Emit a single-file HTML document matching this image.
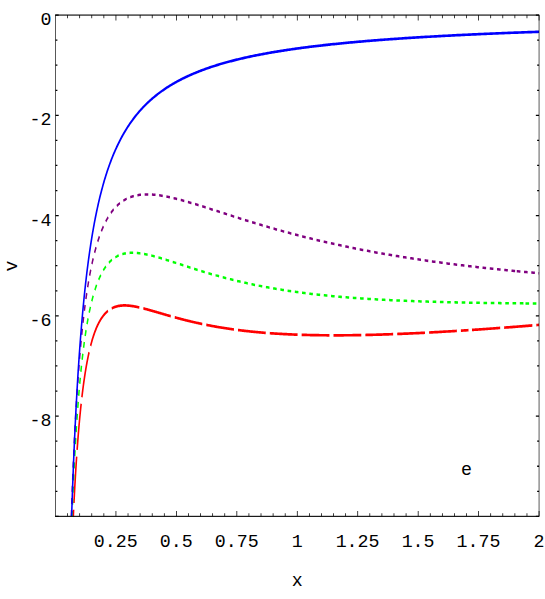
<!DOCTYPE html><html><head><meta charset="utf-8"><title>plot</title><style>html,body{margin:0;padding:0;background:#fff;overflow:hidden}svg{display:block}</style></head><body>
<svg width="545" height="599" viewBox="0 0 545 599">
<rect x="0" y="0" width="545" height="599" fill="#fff"/>
<g transform="scale(1,1.675)">
<g fill="none" stroke-width="1.5" stroke-linejoin="round">
<path d="M73.31,308.27 L73.32,308.26 L73.32,308.22 L73.32,308.15 L73.33,308.05 L73.34,307.92 L73.35,307.76 L73.37,307.58 L73.38,307.36 L73.40,307.12 L73.42,306.86 L73.45,306.56 L73.47,306.24 L73.50,305.89 L73.53,305.51 L73.56,305.11 L73.60,304.68 L73.63,304.23 L73.67,303.75 L73.71,303.24 L73.75,302.71 L73.80,302.16 L73.85,301.58 L73.90,300.98 L73.95,300.36 L74.00,299.72 L74.06,299.05 L74.12,298.36 L74.18,297.65 L74.24,296.92 L74.31,296.17 L74.37,295.40 L74.44,294.62 L74.51,293.81 L74.59,292.99 L74.66,292.14 L74.74,291.29 L74.82,290.41 L74.90,289.53 L74.99,288.62 L75.08,287.70 L75.17,286.77 L75.26,285.83 L75.35,284.87 L75.45,283.90 L75.54,282.92 L75.64,281.93 L75.75,280.93 L75.85,279.92 L75.96,278.90 L76.07,277.87 L76.18,276.84 L76.29,275.79 L76.41,274.74 L76.53,273.69 L76.65,272.63 L76.77,271.56 L76.89,270.49 L77.02,269.41 L77.15,268.33 L77.28,267.25 L77.41,266.16 L77.55,265.08 L77.69,263.99 L77.83,262.90 L77.97,261.81 L78.11,260.72 L78.26,259.62 L78.41,258.53 L78.56,257.44 L78.71,256.36 L78.87,255.27 L79.02,254.19 L79.18,253.11 L79.35,252.03 L79.51,250.95 L79.68,249.88 L79.84,248.82 L80.02,247.75 L80.19,246.69 L80.36,245.64 L80.54,244.59 L80.72,243.55 L80.90,242.52 L81.09,241.49 L81.27,240.46 L81.46,239.44 L81.65,238.43 L81.84,237.43 L82.04,236.43 L82.24,235.45 L82.43,234.47 L82.64,233.49 L82.84,232.53 L83.05,231.57 L83.25,230.62 L83.46,229.69 L83.68,228.76 L83.89,227.83 L84.11,226.92 L84.33,226.02 L84.55,225.12 L84.77,224.24 L85.00,223.36 L85.23,222.50 L85.46,221.64 L85.69,220.80 L85.92,219.96 L86.16,219.14 L86.40,218.32 L86.64,217.51 L86.88,216.72 L87.13,215.93 L87.38,215.16 L87.63,214.39 L87.88,213.64 L88.13,212.89 L88.39,212.16 L88.65,211.43 L88.91,210.72 L89.17,210.01 L89.44,209.32 L89.71,208.64 L89.98,207.97 L90.25,207.30 L90.52,206.65 L90.80,206.01 L91.08,205.38 L91.36,204.76 L91.64,204.15 L91.93,203.55 L92.22,202.95 L92.51,202.37 L92.80,201.80 L93.09,201.24 L93.39,200.69 L93.69,200.15 L93.99,199.62 L94.29,199.10 L94.59,198.59 L94.90,198.09 L95.21,197.60 L95.52,197.11 L95.84,196.64 L96.15,196.18 L96.47,195.73 L96.79,195.28 L97.11,194.85 L97.44,194.42 L97.77,194.00 L98.10,193.59 L98.43,193.20 L98.76,192.81 L99.10,192.42 L99.44,192.05 L99.78,191.69 L100.12,191.33 L100.46,190.98 L100.81,190.65 L101.16,190.32 L101.51,189.99 L101.86,189.68 L102.22,189.37 L102.58,189.08 L102.94,188.78 L103.30,188.50 L103.66,188.23 L104.03,187.96 L104.40,187.70 L104.77,187.45 L105.14,187.20 L105.52,186.97 L105.90,186.74 L106.28,186.51 L106.66,186.30 L107.04,186.09 L107.43,185.88 L107.82,185.69 L108.21,185.50 L108.60,185.32 L109.00,185.14 L109.40,184.97 L109.80,184.80 L110.20,184.65 L110.60,184.50 L111.01,184.35 L111.42,184.21 L111.83,184.08 L112.24,183.95 L112.66,183.83 L113.07,183.71 L113.49,183.60 L113.92,183.49 L114.34,183.39 L114.77,183.30 L115.20,183.21 L115.63,183.12 L116.06,183.04 L116.49,182.96 L116.93,182.89 L117.37,182.83 L117.81,182.77 L118.26,182.71 L118.70,182.66 L119.15,182.61 L119.60,182.57 L120.05,182.53 L120.51,182.49 L120.97,182.46 L121.42,182.43 L121.89,182.41 L122.35,182.39 L122.82,182.38 L123.28,182.36 L123.75,182.36 L124.23,182.35 L124.70,182.35 L125.18,182.35 L125.66,182.36 L126.14,182.37 L126.62,182.38 L127.11,182.40 L127.60,182.42 L128.09,182.44 L128.58,182.46 L129.07,182.49 L129.57,182.52 L130.07,182.55 L130.57,182.59 L131.07,182.63 L131.58,182.67 L132.09,182.71 L132.60,182.76 L133.11,182.81 L133.62,182.86 L134.14,182.91 L134.66,182.97 L135.18,183.02 L135.70,183.08 L136.23,183.14 L136.76,183.21 L137.29,183.27 L137.82,183.34 L138.35,183.41 L138.89,183.48 L139.43,183.55 L139.97,183.63 L140.51,183.71 L141.06,183.78 L141.60,183.86 L142.15,183.94 L142.70,184.03 L143.26,184.11 L143.81,184.19 L144.37,184.28 L144.93,184.37 L145.50,184.46 L146.06,184.55 L146.63,184.64 L147.20,184.73 L147.77,184.83 L148.34,184.92 L148.92,185.02 L149.50,185.11 L150.08,185.21 L150.66,185.31 L151.25,185.41 L151.83,185.51 L152.42,185.61 L153.01,185.71 L153.61,185.81 L154.20,185.91 L154.80,186.02 L155.40,186.12 L156.00,186.23 L156.61,186.33 L157.21,186.44 L157.82,186.54 L158.44,186.65 L159.05,186.76 L159.66,186.87 L160.28,186.97 L160.90,187.08 L161.52,187.19 L162.15,187.30 L162.78,187.41 L163.40,187.52 L164.04,187.63 L164.67,187.74 L165.30,187.85 L165.94,187.96 L166.58,188.07 L167.22,188.18 L167.87,188.29 L168.52,188.40 L169.16,188.51 L169.82,188.62 L170.47,188.73 L171.12,188.84 L171.78,188.95 L172.44,189.06 L173.10,189.17 L173.77,189.28 L174.43,189.39 L175.10,189.50 L175.77,189.61 L176.45,189.72 L177.12,189.83 L177.80,189.94 L178.48,190.05 L179.16,190.16 L179.84,190.26 L180.53,190.37 L181.22,190.48 L181.91,190.59 L182.60,190.70 L183.30,190.80 L183.99,190.91 L184.69,191.02 L185.39,191.12 L186.10,191.23 L186.80,191.33 L187.51,191.44 L188.22,191.54 L188.94,191.65 L189.65,191.75 L190.37,191.85 L191.09,191.95 L191.81,192.06 L192.53,192.16 L193.26,192.26 L193.99,192.36 L194.72,192.46 L195.45,192.56 L196.18,192.66 L196.92,192.76 L197.66,192.86 L198.40,192.95 L199.14,193.05 L199.89,193.15 L200.64,193.24 L201.39,193.34 L202.14,193.43 L202.89,193.53 L203.65,193.62 L204.41,193.72 L205.17,193.81 L205.93,193.90 L206.70,193.99 L207.47,194.08 L208.24,194.17 L209.01,194.26 L209.78,194.35 L210.56,194.44 L211.34,194.53 L212.12,194.61 L212.90,194.70 L213.69,194.79 L214.47,194.87 L215.26,194.96 L216.06,195.04 L216.85,195.12 L217.65,195.21 L218.45,195.29 L219.25,195.37 L220.05,195.45 L220.85,195.53 L221.66,195.61 L222.47,195.69 L223.28,195.76 L224.10,195.84 L224.91,195.92 L225.73,195.99 L226.55,196.07 L227.37,196.14 L228.20,196.22 L229.03,196.29 L229.86,196.36 L230.69,196.43 L231.52,196.51 L232.36,196.58 L233.20,196.65 L234.04,196.71 L234.88,196.78 L235.72,196.85 L236.57,196.92 L237.42,196.98 L238.27,197.05 L239.12,197.11 L239.98,197.18 L240.84,197.24 L241.70,197.30 L242.56,197.37 L243.43,197.43 L244.29,197.49 L245.16,197.55 L246.03,197.61 L246.91,197.66 L247.78,197.72 L248.66,197.78 L249.54,197.84 L250.42,197.89 L251.31,197.95 L252.19,198.00 L253.08,198.05 L253.97,198.11 L254.87,198.16 L255.76,198.21 L256.66,198.26 L257.56,198.31 L258.46,198.36 L259.36,198.41 L260.27,198.46 L261.18,198.50 L262.09,198.55 L263.00,198.60 L263.92,198.64 L264.84,198.69 L265.76,198.73 L266.68,198.77 L267.60,198.82 L268.53,198.86 L269.46,198.90 L270.39,198.94 L271.32,198.98 L272.26,199.02 L273.19,199.06 L274.13,199.09 L275.07,199.13 L276.02,199.17 L276.96,199.20 L277.91,199.24 L278.86,199.27 L279.82,199.31 L280.77,199.34 L281.73,199.37 L282.69,199.40 L283.65,199.44 L284.61,199.47 L285.58,199.50 L286.55,199.52 L287.52,199.55 L288.49,199.58 L289.46,199.61 L290.44,199.64 L291.42,199.66 L292.40,199.69 L293.39,199.71 L294.37,199.73 L295.36,199.76 L296.35,199.78 L297.34,199.80 L298.34,199.82 L299.33,199.85 L300.33,199.87 L301.33,199.89 L302.34,199.90 L303.34,199.92 L304.35,199.94 L305.36,199.96 L306.37,199.97 L307.39,199.99 L308.40,200.00 L309.42,200.02 L310.44,200.03 L311.47,200.05 L312.49,200.06 L313.52,200.07 L314.55,200.08 L315.58,200.09 L316.61,200.10 L317.65,200.11 L318.69,200.12 L319.73,200.13 L320.77,200.14 L321.82,200.15 L322.87,200.15 L323.92,200.16 L324.97,200.17 L326.02,200.17 L327.08,200.18 L328.14,200.18 L329.20,200.18 L330.26,200.19 L331.33,200.19 L332.39,200.19 L333.46,200.19 L334.53,200.19 L335.61,200.19 L336.68,200.19 L337.76,200.19 L338.84,200.19 L339.93,200.19 L341.01,200.18 L342.10,200.18 L343.19,200.18 L344.28,200.17 L345.37,200.17 L346.47,200.16 L347.57,200.15 L348.67,200.15 L349.77,200.14 L350.87,200.13 L351.98,200.13 L353.09,200.12 L354.20,200.11 L355.31,200.10 L356.43,200.09 L357.55,200.08 L358.67,200.06 L359.79,200.05 L360.91,200.04 L362.04,200.03 L363.17,200.01 L364.30,200.00 L365.43,199.99 L366.57,199.97 L367.71,199.95 L368.85,199.94 L369.99,199.92 L371.13,199.90 L372.28,199.89 L373.43,199.87 L374.58,199.85 L375.73,199.83 L376.89,199.81 L378.05,199.79 L379.21,199.77 L380.37,199.75 L381.53,199.73 L382.70,199.71 L383.87,199.68 L385.04,199.66 L386.21,199.64 L387.39,199.61 L388.56,199.59 L389.74,199.56 L390.93,199.54 L392.11,199.51 L393.30,199.49 L394.48,199.46 L395.67,199.43 L396.87,199.41 L398.06,199.38 L399.26,199.35 L400.46,199.32 L401.66,199.29 L402.86,199.26 L404.07,199.23 L405.28,199.20 L406.49,199.17 L407.70,199.14 L408.92,199.10 L410.13,199.07 L411.35,199.04 L412.57,199.00 L413.80,198.97 L415.02,198.94 L416.25,198.90 L417.48,198.87 L418.72,198.83 L419.95,198.79 L421.19,198.76 L422.43,198.72 L423.67,198.68 L424.91,198.64 L426.16,198.61 L427.40,198.57 L428.65,198.53 L429.91,198.49 L431.16,198.45 L432.42,198.41 L433.68,198.37 L434.94,198.32 L436.20,198.28 L437.47,198.24 L438.73,198.20 L440.00,198.16 L441.28,198.11 L442.55,198.07 L443.83,198.02 L445.11,197.98 L446.39,197.93 L447.67,197.89 L448.96,197.84 L450.24,197.80 L451.53,197.75 L452.82,197.70 L454.12,197.66 L455.42,197.61 L456.71,197.56 L458.01,197.51 L459.32,197.46 L460.62,197.41 L461.93,197.36 L463.24,197.31 L464.55,197.26 L465.87,197.21 L467.18,197.16 L468.50,197.11" stroke="#f00" stroke-width="1.6" stroke-dasharray="27.8 4.06" stroke-dashoffset="23.85"/>
<path d="M472.00,196.97 L472.01,196.97 L472.04,196.97 L472.10,196.96 L472.17,196.96 L472.27,196.96 L472.39,196.95 L472.53,196.95 L472.69,196.94 L472.87,196.93 L473.07,196.93 L473.30,196.92 L473.55,196.91 L473.82,196.90 L474.11,196.88 L474.42,196.87 L474.75,196.86 L475.10,196.84 L475.48,196.83 L475.88,196.81 L476.30,196.80 L476.74,196.78 L477.20,196.76 L477.68,196.74 L478.19,196.72 L478.71,196.70 L479.26,196.67 L479.83,196.65 L480.42,196.63 L481.04,196.60 L481.67,196.58 L482.32,196.55 L483.00,196.52 L483.70,196.49 L484.42,196.46 L485.16,196.43 L485.92,196.40 L486.71,196.36 L487.51,196.33 L488.34,196.29 L489.19,196.26 L490.06,196.22 L490.95,196.18 L491.86,196.14 L492.80,196.10 L493.76,196.06 L494.73,196.02 L495.73,195.98 L496.75,195.93 L497.80,195.89 L498.86,195.84 L499.94,195.79 L501.05,195.74 L502.18,195.69 L503.33,195.64 L504.50,195.59 L505.69,195.54 L506.91,195.48 L508.14,195.43 L509.40,195.37 L510.68,195.31 L511.98,195.25 L513.30,195.19 L514.64,195.13 L516.01,195.07 L517.39,195.00 L518.80,194.94 L520.23,194.87 L521.68,194.80 L523.15,194.73 L524.64,194.66 L526.16,194.59 L527.69,194.52 L529.25,194.44 L530.83,194.37 L532.43,194.29 L534.05,194.21 L535.70,194.13 L537.36,194.05 L539.05,193.97" stroke="#f00" stroke-width="1.6" stroke-dasharray="28.2 4.0"/>
<path d="M72.02,308.27 L72.02,308.26 L72.03,308.20 L72.03,308.10 L72.04,307.96 L72.05,307.79 L72.07,307.57 L72.08,307.32 L72.10,307.03 L72.13,306.70 L72.15,306.33 L72.18,305.92 L72.20,305.48 L72.24,305.00 L72.27,304.49 L72.31,303.94 L72.35,303.35 L72.39,302.73 L72.43,302.08 L72.48,301.39 L72.53,300.67 L72.58,299.92 L72.63,299.14 L72.69,298.32 L72.75,297.48 L72.81,296.61 L72.87,295.71 L72.94,294.78 L73.01,293.82 L73.08,292.84 L73.16,291.83 L73.23,290.79 L73.31,289.74 L73.39,288.66 L73.48,287.56 L73.57,286.43 L73.66,285.29 L73.75,284.13 L73.84,282.94 L73.94,281.74 L74.04,280.53 L74.14,279.30 L74.25,278.05 L74.35,276.79 L74.46,275.51 L74.57,274.22 L74.69,272.92 L74.81,271.61 L74.93,270.29 L75.05,268.96 L75.17,267.62 L75.30,266.27 L75.43,264.92 L75.56,263.56 L75.70,262.19 L75.83,260.82 L75.97,259.44 L76.12,258.06 L76.26,256.68 L76.41,255.30 L76.56,253.91 L76.71,252.52 L76.87,251.14 L77.02,249.75 L77.18,248.37 L77.35,246.98 L77.51,245.60 L77.68,244.23 L77.85,242.85 L78.02,241.48 L78.20,240.11 L78.37,238.75 L78.55,237.39 L78.74,236.04 L78.92,234.70 L79.11,233.36 L79.30,232.03 L79.49,230.70 L79.69,229.39 L79.88,228.08 L80.09,226.78 L80.29,225.49 L80.49,224.20 L80.70,222.93 L80.91,221.67 L81.12,220.41 L81.34,219.17 L81.56,217.94 L81.78,216.71 L82.00,215.50 L82.23,214.30 L82.45,213.11 L82.69,211.93 L82.92,210.76 L83.15,209.61 L83.39,208.47 L83.63,207.33 L83.88,206.21 L84.12,205.11 L84.37,204.01 L84.62,202.93 L84.87,201.86 L85.13,200.80 L85.39,199.76 L85.65,198.72 L85.91,197.70 L86.18,196.70 L86.45,195.70 L86.72,194.72 L86.99,193.75 L87.27,192.80 L87.54,191.86 L87.82,190.93 L88.11,190.01 L88.39,189.11 L88.68,188.21 L88.97,187.34 L89.27,186.47 L89.56,185.62 L89.86,184.78 L90.16,183.95 L90.47,183.14 L90.77,182.34 L91.08,181.55 L91.39,180.77 L91.71,180.00 L92.02,179.25 L92.34,178.51 L92.66,177.79 L92.99,177.07 L93.31,176.37 L93.64,175.68 L93.97,175.00 L94.31,174.33 L94.64,173.68 L94.98,173.03 L95.32,172.40 L95.67,171.78 L96.01,171.17 L96.36,170.58 L96.71,169.99 L97.07,169.41 L97.42,168.85 L97.78,168.30 L98.14,167.76 L98.51,167.23 L98.87,166.70 L99.24,166.20 L99.62,165.70 L99.99,165.21 L100.37,164.73 L100.75,164.26 L101.13,163.80 L101.51,163.35 L101.90,162.92 L102.29,162.49 L102.68,162.07 L103.07,161.66 L103.47,161.26 L103.87,160.87 L104.27,160.49 L104.68,160.12 L105.08,159.76 L105.49,159.40 L105.90,159.06 L106.32,158.72 L106.74,158.39 L107.15,158.08 L107.58,157.77 L108.00,157.46 L108.43,157.17 L108.86,156.88 L109.29,156.61 L109.72,156.34 L110.16,156.08 L110.60,155.82 L111.04,155.58 L111.49,155.34 L111.93,155.11 L112.38,154.88 L112.84,154.67 L113.29,154.46 L113.75,154.25 L114.21,154.06 L114.67,153.87 L115.14,153.69 L115.60,153.51 L116.07,153.34 L116.55,153.18 L117.02,153.03 L117.50,152.88 L117.98,152.73 L118.46,152.60 L118.95,152.47 L119.43,152.34 L119.92,152.22 L120.42,152.11 L120.91,152.00 L121.41,151.90 L121.91,151.80 L122.41,151.71 L122.92,151.63 L123.42,151.55 L123.93,151.47 L124.45,151.40 L124.96,151.34 L125.48,151.28 L126.00,151.22 L126.52,151.17 L127.05,151.13 L127.58,151.09 L128.11,151.05 L128.64,151.02 L129.17,150.99 L129.71,150.97 L130.25,150.95 L130.80,150.94 L131.34,150.93 L131.89,150.92 L132.44,150.92 L132.99,150.92 L133.55,150.92 L134.11,150.93 L134.67,150.95 L135.23,150.96 L135.79,150.98 L136.36,151.01 L136.93,151.03 L137.51,151.06 L138.08,151.10 L138.66,151.14 L139.24,151.18 L139.82,151.22 L140.41,151.27 L141.00,151.32 L141.59,151.37 L142.18,151.42 L142.78,151.48 L143.38,151.54 L143.98,151.61 L144.58,151.68 L145.19,151.74 L145.80,151.82 L146.41,151.89 L147.02,151.97 L147.64,152.05 L148.25,152.13 L148.88,152.21 L149.50,152.30 L150.12,152.39 L150.75,152.48 L151.38,152.57 L152.02,152.66 L152.65,152.76 L153.29,152.86 L153.93,152.96 L154.58,153.06 L155.22,153.17 L155.87,153.27 L156.52,153.38 L157.18,153.49 L157.83,153.60 L158.49,153.71 L159.15,153.83 L159.82,153.94 L160.48,154.06 L161.15,154.18 L161.82,154.30 L162.50,154.42 L163.18,154.54 L163.85,154.67 L164.54,154.79 L165.22,154.92 L165.91,155.05 L166.60,155.18 L167.29,155.31 L167.98,155.44 L168.68,155.57 L169.38,155.70 L170.08,155.84 L170.78,155.97 L171.49,156.11 L172.20,156.24 L172.91,156.38 L173.62,156.52 L174.34,156.66 L175.06,156.80 L175.78,156.94 L176.51,157.08 L177.23,157.22 L177.96,157.36 L178.69,157.50 L179.43,157.65 L180.17,157.79 L180.91,157.93 L181.65,158.08 L182.39,158.22 L183.14,158.37 L183.89,158.51 L184.64,158.66 L185.39,158.81 L186.15,158.95 L186.91,159.10 L187.67,159.25 L188.44,159.40 L189.21,159.54 L189.98,159.69 L190.75,159.84 L191.52,159.99 L192.30,160.14 L193.08,160.29 L193.86,160.43 L194.65,160.58 L195.43,160.73 L196.22,160.88 L197.02,161.03 L197.81,161.18 L198.61,161.33 L199.41,161.47 L200.21,161.62 L201.02,161.77 L201.82,161.92 L202.63,162.07 L203.44,162.22 L204.26,162.36 L205.08,162.51 L205.90,162.66 L206.72,162.81 L207.55,162.95 L208.37,163.10 L209.20,163.25 L210.04,163.39 L210.87,163.54 L211.71,163.68 L212.55,163.83 L213.39,163.97 L214.24,164.12 L215.08,164.26 L215.93,164.40 L216.79,164.55 L217.64,164.69 L218.50,164.83 L219.36,164.98 L220.22,165.12 L221.09,165.26 L221.96,165.40 L222.83,165.54 L223.70,165.68 L224.58,165.82 L225.45,165.96 L226.33,166.10 L227.22,166.23 L228.10,166.37 L228.99,166.51 L229.88,166.64 L230.78,166.78 L231.67,166.91 L232.57,167.05 L233.47,167.18 L234.37,167.32 L235.28,167.45 L236.19,167.58 L237.10,167.71 L238.01,167.84 L238.93,167.97 L239.84,168.10 L240.77,168.23 L241.69,168.36 L242.61,168.49 L243.54,168.61 L244.47,168.74 L245.41,168.87 L246.34,168.99 L247.28,169.11 L248.22,169.24 L249.17,169.36 L250.11,169.48 L251.06,169.60 L252.01,169.73 L252.97,169.85 L253.92,169.97 L254.88,170.08 L255.84,170.20 L256.81,170.32 L257.77,170.44 L258.74,170.55 L259.71,170.67 L260.69,170.78 L261.66,170.89 L262.64,171.01 L263.62,171.12 L264.61,171.23 L265.59,171.34 L266.58,171.45 L267.57,171.56 L268.57,171.67 L269.56,171.78 L270.56,171.88 L271.56,171.99 L272.57,172.09 L273.57,172.20 L274.58,172.30 L275.59,172.41 L276.61,172.51 L277.62,172.61 L278.64,172.71 L279.66,172.81 L280.69,172.91 L281.72,173.01 L282.74,173.11 L283.78,173.20 L284.81,173.30 L285.85,173.40 L286.89,173.49 L287.93,173.59 L288.97,173.68 L290.02,173.77 L291.07,173.86 L292.12,173.95 L293.17,174.04 L294.23,174.13 L295.29,174.22 L296.35,174.31 L297.42,174.40 L298.48,174.48 L299.55,174.57 L300.63,174.66 L301.70,174.74 L302.78,174.82 L303.86,174.91 L304.94,174.99 L306.02,175.07 L307.11,175.15 L308.20,175.23 L309.29,175.31 L310.39,175.39 L311.48,175.47 L312.58,175.54 L313.69,175.62 L314.79,175.69 L315.90,175.77 L317.01,175.84 L318.12,175.92 L319.24,175.99 L320.35,176.06 L321.47,176.13 L322.59,176.20 L323.72,176.27 L324.85,176.34 L325.98,176.41 L327.11,176.48 L328.24,176.55 L329.38,176.61 L330.52,176.68 L331.66,176.74 L332.81,176.81 L333.96,176.87 L335.11,176.94 L336.26,177.00 L337.42,177.06 L338.57,177.12 L339.73,177.18 L340.90,177.24 L342.06,177.30 L343.23,177.36 L344.40,177.42 L345.57,177.48 L346.75,177.53 L347.92,177.59 L349.11,177.65 L350.29,177.70 L351.47,177.76 L352.66,177.81 L353.85,177.86 L355.04,177.92 L356.24,177.97 L357.44,178.02 L358.64,178.07 L359.84,178.12 L361.05,178.17 L362.25,178.22 L363.47,178.27 L364.68,178.32 L365.89,178.36 L367.11,178.41 L368.33,178.46 L369.56,178.50 L370.78,178.55 L372.01,178.59 L373.24,178.64 L374.47,178.68 L375.71,178.72 L376.95,178.76 L378.19,178.81 L379.43,178.85 L380.68,178.89 L381.93,178.93 L383.18,178.97 L384.43,179.01 L385.69,179.05 L386.94,179.09 L388.21,179.13 L389.47,179.16 L390.74,179.20 L392.00,179.24 L393.27,179.27 L394.55,179.31 L395.82,179.34 L397.10,179.38 L398.38,179.41 L399.67,179.45 L400.95,179.48 L402.24,179.51 L403.53,179.55 L404.83,179.58 L406.12,179.61 L407.42,179.64 L408.72,179.67 L410.03,179.70 L411.33,179.73 L412.64,179.76 L413.95,179.79 L415.27,179.82 L416.58,179.85 L417.90,179.88 L419.22,179.90 L420.55,179.93 L421.87,179.96 L423.20,179.98 L424.54,180.01 L425.87,180.04 L427.21,180.06 L428.54,180.09 L429.89,180.11 L431.23,180.13 L432.58,180.16 L433.93,180.18 L435.28,180.21 L436.63,180.23 L437.99,180.25 L439.35,180.27 L440.71,180.29 L442.07,180.32 L443.44,180.34 L444.81,180.36 L446.18,180.38 L447.56,180.40 L448.93,180.42 L450.31,180.44 L451.69,180.46 L453.08,180.48 L454.47,180.50 L455.85,180.52 L457.25,180.53 L458.64,180.55 L460.04,180.57 L461.44,180.59 L462.84,180.60 L464.24,180.62 L465.65,180.64 L467.06,180.65 L468.47,180.67 L469.89,180.69 L471.30,180.70 L472.72,180.72 L474.15,180.73 L475.57,180.75 L477.00,180.76 L478.43,180.78 L479.86,180.79 L481.30,180.80 L482.73,180.82 L484.17,180.83 L485.61,180.84 L487.06,180.86 L488.51,180.87 L489.96,180.88 L491.41,180.90 L492.86,180.91 L494.32,180.92 L495.78,180.93 L497.24,180.94 L498.71,180.95 L500.18,180.97 L501.65,180.98 L503.12,180.99 L504.59,181.00 L506.07,181.01 L507.55,181.02 L509.03,181.03 L510.52,181.04 L512.01,181.05 L513.50,181.06 L514.99,181.07 L516.49,181.08 L517.98,181.09 L519.48,181.10 L520.99,181.11 L522.49,181.11 L524.00,181.12" stroke="#0f0" stroke-dasharray="3.6 3.663" stroke-dashoffset="0.32"/>
<path d="M525.50,181.13 L525.52,181.13 L525.56,181.13 L525.65,181.13 L525.76,181.13 L525.90,181.13 L526.08,181.13 L526.29,181.14 L526.53,181.14 L526.81,181.14 L527.11,181.14 L527.45,181.14 L527.82,181.14 L528.22,181.15 L528.66,181.15 L529.13,181.15 L529.62,181.15 L530.16,181.16 L530.72,181.16 L531.32,181.16 L531.94,181.17 L532.61,181.17 L533.30,181.17 L534.02,181.18 L534.78,181.18 L535.57,181.18 L536.39,181.19 L537.25,181.19 L538.13,181.20 L539.05,181.20" stroke="#0f0" stroke-dasharray="3.6 3.663"/>
<path d="M71.31,308.27 L71.32,308.25 L71.32,308.19 L71.33,308.08 L71.33,307.92 L71.35,307.73 L71.36,307.49 L71.38,307.21 L71.39,306.88 L71.41,306.51 L71.44,306.10 L71.46,305.65 L71.49,305.16 L71.52,304.62 L71.56,304.05 L71.59,303.43 L71.63,302.78 L71.67,302.09 L71.72,301.36 L71.76,300.59 L71.81,299.79 L71.86,298.95 L71.91,298.07 L71.97,297.16 L72.03,296.22 L72.09,295.24 L72.15,294.24 L72.22,293.20 L72.29,292.13 L72.36,291.03 L72.43,289.90 L72.50,288.74 L72.58,287.56 L72.66,286.35 L72.75,285.12 L72.83,283.86 L72.92,282.58 L73.01,281.28 L73.10,279.96 L73.20,278.62 L73.30,277.25 L73.40,275.87 L73.50,274.47 L73.60,273.06 L73.71,271.63 L73.82,270.18 L73.93,268.72 L74.05,267.25 L74.17,265.77 L74.29,264.27 L74.41,262.77 L74.54,261.25 L74.66,259.73 L74.79,258.20 L74.93,256.66 L75.06,255.12 L75.20,253.57 L75.34,252.01 L75.48,250.45 L75.62,248.89 L75.77,247.33 L75.92,245.77 L76.07,244.20 L76.23,242.63 L76.39,241.07 L76.55,239.50 L76.71,237.94 L76.87,236.38 L77.04,234.82 L77.21,233.26 L77.38,231.71 L77.56,230.16 L77.73,228.62 L77.91,227.08 L78.10,225.55 L78.28,224.02 L78.47,222.50 L78.66,220.99 L78.85,219.49 L79.04,217.99 L79.24,216.50 L79.44,215.02 L79.64,213.55 L79.84,212.09 L80.05,210.63 L80.26,209.19 L80.47,207.76 L80.69,206.33 L80.90,204.92 L81.12,203.52 L81.34,202.13 L81.57,200.75 L81.80,199.38 L82.02,198.03 L82.26,196.68 L82.49,195.35 L82.73,194.03 L82.97,192.72 L83.21,191.42 L83.45,190.14 L83.70,188.87 L83.95,187.61 L84.20,186.36 L84.45,185.13 L84.71,183.91 L84.97,182.70 L85.23,181.51 L85.49,180.33 L85.76,179.16 L86.03,178.00 L86.30,176.86 L86.57,175.73 L86.85,174.62 L87.13,173.52 L87.41,172.43 L87.69,171.35 L87.98,170.29 L88.26,169.24 L88.56,168.20 L88.85,167.18 L89.15,166.16 L89.44,165.17 L89.74,164.18 L90.05,163.21 L90.35,162.25 L90.66,161.30 L90.97,160.37 L91.29,159.45 L91.60,158.54 L91.92,157.65 L92.24,156.76 L92.56,155.89 L92.89,155.03 L93.22,154.19 L93.55,153.35 L93.88,152.53 L94.22,151.72 L94.56,150.92 L94.90,150.14 L95.24,149.37 L95.58,148.60 L95.93,147.85 L96.28,147.11 L96.64,146.39 L96.99,145.67 L97.35,144.97 L97.71,144.27 L98.07,143.59 L98.44,142.92 L98.80,142.26 L99.18,141.61 L99.55,140.97 L99.92,140.34 L100.30,139.72 L100.68,139.12 L101.06,138.52 L101.45,137.93 L101.84,137.36 L102.23,136.79 L102.62,136.23 L103.01,135.69 L103.41,135.15 L103.81,134.62 L104.21,134.10 L104.62,133.60 L105.03,133.10 L105.44,132.61 L105.85,132.13 L106.26,131.66 L106.68,131.19 L107.10,130.74 L107.52,130.30 L107.95,129.86 L108.37,129.43 L108.80,129.01 L109.24,128.60 L109.67,128.20 L110.11,127.81 L110.55,127.42 L110.99,127.05 L111.43,126.68 L111.88,126.32 L112.33,125.96 L112.78,125.62 L113.24,125.28 L113.69,124.95 L114.15,124.63 L114.61,124.31 L115.08,124.00 L115.55,123.70 L116.02,123.41 L116.49,123.12 L116.96,122.84 L117.44,122.57 L117.92,122.30 L118.40,122.04 L118.88,121.79 L119.37,121.54 L119.86,121.30 L120.35,121.07 L120.84,120.84 L121.34,120.62 L121.84,120.41 L122.34,120.20 L122.85,120.00 L123.35,119.80 L123.86,119.61 L124.37,119.42 L124.89,119.25 L125.40,119.07 L125.92,118.90 L126.44,118.74 L126.97,118.59 L127.49,118.43 L128.02,118.29 L128.55,118.15 L129.09,118.01 L129.62,117.88 L130.16,117.76 L130.70,117.64 L131.25,117.52 L131.79,117.41 L132.34,117.30 L132.89,117.20 L133.44,117.11 L134.00,117.02 L134.56,116.93 L135.12,116.85 L135.68,116.77 L136.25,116.70 L136.82,116.63 L137.39,116.56 L137.96,116.50 L138.54,116.44 L139.12,116.39 L139.70,116.34 L140.28,116.30 L140.87,116.26 L141.45,116.22 L142.04,116.19 L142.64,116.16 L143.23,116.14 L143.83,116.11 L144.43,116.10 L145.03,116.08 L145.64,116.07 L146.25,116.07 L146.86,116.06 L147.47,116.06 L148.09,116.06 L148.71,116.07 L149.33,116.08 L149.95,116.09 L150.57,116.11 L151.20,116.13 L151.83,116.15 L152.46,116.18 L153.10,116.20 L153.74,116.24 L154.38,116.27 L155.02,116.31 L155.67,116.35 L156.31,116.39 L156.96,116.44 L157.62,116.48 L158.27,116.53 L158.93,116.59 L159.59,116.64 L160.25,116.70 L160.92,116.76 L161.58,116.83 L162.25,116.89 L162.93,116.96 L163.60,117.03 L164.28,117.10 L164.96,117.18 L165.64,117.26 L166.32,117.34 L167.01,117.42 L167.70,117.50 L168.39,117.59 L169.09,117.68 L169.79,117.77 L170.48,117.86 L171.19,117.95 L171.89,118.05 L172.60,118.15 L173.31,118.25 L174.02,118.35 L174.73,118.45 L175.45,118.56 L176.17,118.67 L176.89,118.78 L177.62,118.89 L178.34,119.00 L179.07,119.11 L179.81,119.23 L180.54,119.35 L181.28,119.46 L182.02,119.58 L182.76,119.71 L183.50,119.83 L184.25,119.95 L185.00,120.08 L185.75,120.21 L186.50,120.34 L187.26,120.47 L188.02,120.60 L188.78,120.73 L189.54,120.86 L190.31,121.00 L191.08,121.14 L191.85,121.27 L192.62,121.41 L193.40,121.55 L194.18,121.69 L194.96,121.83 L195.75,121.98 L196.53,122.12 L197.32,122.27 L198.11,122.41 L198.91,122.56 L199.70,122.71 L200.50,122.86 L201.30,123.01 L202.10,123.16 L202.91,123.31 L203.72,123.46 L204.53,123.62 L205.34,123.77 L206.16,123.93 L206.98,124.08 L207.80,124.24 L208.62,124.40 L209.45,124.55 L210.28,124.71 L211.11,124.87 L211.94,125.03 L212.78,125.19 L213.62,125.35 L214.46,125.52 L215.30,125.68 L216.15,125.84 L216.99,126.00 L217.84,126.17 L218.70,126.33 L219.55,126.50 L220.41,126.66 L221.27,126.83 L222.13,127.00 L223.00,127.16 L223.87,127.33 L224.74,127.50 L225.61,127.67 L226.49,127.84 L227.36,128.01 L228.25,128.17 L229.13,128.34 L230.01,128.51 L230.90,128.68 L231.79,128.85 L232.68,129.03 L233.58,129.20 L234.48,129.37 L235.38,129.54 L236.28,129.71 L237.19,129.88 L238.09,130.06 L239.00,130.23 L239.92,130.40 L240.83,130.57 L241.75,130.75 L242.67,130.92 L243.59,131.09 L244.52,131.26 L245.44,131.44 L246.37,131.61 L247.31,131.78 L248.24,131.96 L249.18,132.13 L250.12,132.30 L251.06,132.48 L252.00,132.65 L252.95,132.83 L253.90,133.00 L254.85,133.17 L255.81,133.35 L256.77,133.52 L257.73,133.69 L258.69,133.87 L259.65,134.04 L260.62,134.21 L261.59,134.39 L262.56,134.56 L263.54,134.73 L264.51,134.91 L265.49,135.08 L266.47,135.25 L267.46,135.42 L268.45,135.60 L269.43,135.77 L270.43,135.94 L271.42,136.11 L272.42,136.28 L273.42,136.45 L274.42,136.63 L275.42,136.80 L276.43,136.97 L277.44,137.14 L278.45,137.31 L279.46,137.48 L280.48,137.65 L281.50,137.82 L282.52,137.99 L283.55,138.16 L284.57,138.33 L285.60,138.50 L286.63,138.66 L287.67,138.83 L288.70,139.00 L289.74,139.17 L290.78,139.34 L291.83,139.50 L292.87,139.67 L293.92,139.84 L294.97,140.00 L296.03,140.17 L297.08,140.33 L298.14,140.50 L299.20,140.66 L300.27,140.83 L301.33,140.99 L302.40,141.15 L303.47,141.32 L304.55,141.48 L305.62,141.64 L306.70,141.80 L307.78,141.97 L308.87,142.13 L309.95,142.29 L311.04,142.45 L312.13,142.61 L313.22,142.77 L314.32,142.93 L315.42,143.09 L316.52,143.25 L317.62,143.40 L318.73,143.56 L319.84,143.72 L320.95,143.87 L322.06,144.03 L323.18,144.19 L324.29,144.34 L325.41,144.50 L326.54,144.65 L327.66,144.81 L328.79,144.96 L329.92,145.11 L331.05,145.27 L332.19,145.42 L333.33,145.57 L334.47,145.72 L335.61,145.87 L336.76,146.02 L337.90,146.17 L339.06,146.32 L340.21,146.47 L341.36,146.62 L342.52,146.77 L343.68,146.92 L344.84,147.06 L346.01,147.21 L347.18,147.36 L348.35,147.50 L349.52,147.65 L350.69,147.79 L351.87,147.93 L353.05,148.08 L354.23,148.22 L355.42,148.36 L356.61,148.51 L357.80,148.65 L358.99,148.79 L360.18,148.93 L361.38,149.07 L362.58,149.21 L363.78,149.35 L364.99,149.49 L366.20,149.62 L367.41,149.76 L368.62,149.90 L369.83,150.04 L371.05,150.17 L372.27,150.31 L373.49,150.44 L374.72,150.58 L375.94,150.71 L377.17,150.84 L378.41,150.98 L379.64,151.11 L380.88,151.24 L382.12,151.37 L383.36,151.50 L384.60,151.63 L385.85,151.76 L387.10,151.89 L388.35,152.02 L389.61,152.15 L390.86,152.28 L392.12,152.40 L393.38,152.53 L394.65,152.66 L395.91,152.78 L397.18,152.91 L398.46,153.03 L399.73,153.16 L401.01,153.28 L402.29,153.40 L403.57,153.53 L404.85,153.65 L406.14,153.77 L407.43,153.89 L408.72,154.01 L410.01,154.13 L411.31,154.25 L412.61,154.37 L413.91,154.49 L415.21,154.61 L416.52,154.72 L417.83,154.84 L419.14,154.96 L420.45,155.07 L421.77,155.19 L423.09,155.30 L424.41,155.42 L425.73,155.53 L427.06,155.64 L428.39,155.76 L429.72,155.87 L431.05,155.98 L432.39,156.09 L433.73,156.20 L435.07,156.31 L436.41,156.42 L437.76,156.53 L439.11,156.64 L440.46,156.75 L441.81,156.86 L443.17,156.96 L444.52,157.07 L445.89,157.18 L447.25,157.28 L448.61,157.39 L449.98,157.49 L451.35,157.60 L452.73,157.70 L454.10,157.81 L455.48,157.91 L456.86,158.01 L458.24,158.11 L459.63,158.22 L461.02,158.32 L462.41,158.42 L463.80,158.52 L465.20,158.62 L466.59,158.72 L468.00,158.82 L469.40,158.91 L470.80,159.01 L472.21,159.11 L473.62,159.21 L475.03,159.30 L476.45,159.40 L477.87,159.50 L479.29,159.59 L480.71,159.69 L482.14,159.78 L483.56,159.87 L484.99,159.97 L486.43,160.06 L487.86,160.15 L489.30,160.25 L490.74,160.34 L492.18,160.43 L493.63,160.52 L495.07,160.61 L496.52,160.70 L497.98,160.79 L499.43,160.88 L500.89,160.97 L502.35,161.06 L503.81,161.14 L505.28,161.23 L506.74,161.32 L508.21,161.40 L509.69,161.49 L511.16,161.58 L512.64,161.66 L514.12,161.75 L515.60,161.83" stroke="#800080" stroke-dasharray="3.6 3.656" stroke-dashoffset="-0.12"/>
<path d="M516.80,161.90 L516.83,161.90 L516.91,161.91 L517.04,161.91 L517.22,161.92 L517.46,161.94 L517.75,161.95 L518.10,161.97 L518.49,162.00 L518.94,162.02 L519.45,162.05 L520.00,162.08 L520.61,162.11 L521.27,162.15 L521.99,162.19 L522.75,162.23 L523.57,162.28 L524.45,162.33 L525.37,162.38 L526.35,162.43 L527.38,162.49 L528.47,162.55 L529.60,162.61 L530.80,162.67 L532.04,162.74 L533.34,162.81 L534.68,162.88 L536.09,162.95 L537.54,163.03 L539.05,163.10" stroke="#800080" stroke-dasharray="3.6 3.656"/>
<path d="M71.62,308.27 L71.62,308.25 L71.62,308.18 L71.63,308.06 L71.64,307.89 L71.65,307.67 L71.67,307.41 L71.68,307.09 L71.70,306.73 L71.72,306.33 L71.75,305.88 L71.78,305.38 L71.81,304.83 L71.84,304.24 L71.87,303.61 L71.91,302.93 L71.95,302.21 L72.00,301.44 L72.04,300.64 L72.09,299.79 L72.14,298.90 L72.19,297.98 L72.25,297.01 L72.31,296.00 L72.37,294.96 L72.43,293.88 L72.50,292.77 L72.57,291.62 L72.64,290.44 L72.71,289.23 L72.79,287.98 L72.87,286.71 L72.95,285.40 L73.04,284.07 L73.13,282.70 L73.22,281.31 L73.31,279.90 L73.40,278.46 L73.50,277.00 L73.60,275.51 L73.70,274.01 L73.81,272.48 L73.92,270.93 L74.03,269.37 L74.14,267.78 L74.26,266.18 L74.38,264.57 L74.50,262.94 L74.62,261.30 L74.75,259.64 L74.88,257.97 L75.01,256.29 L75.14,254.60 L75.28,252.90 L75.42,251.20 L75.56,249.48 L75.70,247.76 L75.85,246.03 L76.00,244.30 L76.15,242.57 L76.31,240.83 L76.47,239.08 L76.63,237.34 L76.79,235.59 L76.96,233.84 L77.12,232.10 L77.29,230.35 L77.47,228.60 L77.64,226.86 L77.82,225.12 L78.00,223.38 L78.19,221.64 L78.37,219.91 L78.56,218.18 L78.75,216.46 L78.95,214.74 L79.14,213.03 L79.34,211.33 L79.55,209.63 L79.75,207.93 L79.96,206.25 L80.17,204.57 L80.38,202.90 L80.59,201.24 L80.81,199.59 L81.03,197.95 L81.25,196.31 L81.48,194.69 L81.71,193.07 L81.94,191.47 L82.17,189.87 L82.41,188.29 L82.65,186.71 L82.89,185.15 L83.13,183.59 L83.38,182.05 L83.63,180.52 L83.88,179.00 L84.13,177.49 L84.39,176.00 L84.65,174.51 L84.91,173.04 L85.17,171.58 L85.44,170.13 L85.71,168.69 L85.98,167.26 L86.26,165.85 L86.53,164.44 L86.81,163.05 L87.10,161.68 L87.38,160.31 L87.67,158.96 L87.96,157.61 L88.25,156.28 L88.55,154.97 L88.85,153.66 L89.15,152.37 L89.45,151.08 L89.76,149.81 L90.07,148.56 L90.38,147.31 L90.69,146.08 L91.01,144.86 L91.33,143.65 L91.65,142.45 L91.97,141.26 L92.30,140.08 L92.63,138.92 L92.96,137.77 L93.30,136.63 L93.64,135.50 L93.98,134.38 L94.32,133.27 L94.66,132.18 L95.01,131.09 L95.36,130.02 L95.72,128.96 L96.07,127.91 L96.43,126.87 L96.79,125.84 L97.15,124.82 L97.52,123.81 L97.89,122.81 L98.26,121.82 L98.63,120.84 L99.01,119.88 L99.39,118.92 L99.77,117.97 L100.15,117.03 L100.54,116.10 L100.93,115.19 L101.32,114.28 L101.72,113.38 L102.12,112.49 L102.52,111.61 L102.92,110.74 L103.32,109.88 L103.73,109.02 L104.14,108.18 L104.55,107.34 L104.97,106.52 L105.39,105.70 L105.81,104.89 L106.23,104.09 L106.66,103.30 L107.09,102.52 L107.52,101.74 L107.95,100.97 L108.39,100.22 L108.83,99.46 L109.27,98.72 L109.71,97.99 L110.16,97.26 L110.61,96.54 L111.06,95.83 L111.52,95.12 L111.97,94.42 L112.43,93.73 L112.90,93.05 L113.36,92.38 L113.83,91.71 L114.30,91.05 L114.77,90.39 L115.25,89.74 L115.73,89.10 L116.21,88.47 L116.69,87.84 L117.18,87.22 L117.66,86.61 L118.16,86.00 L118.65,85.39 L119.15,84.80 L119.64,84.21 L120.15,83.63 L120.65,83.05 L121.16,82.48 L121.67,81.91 L122.18,81.35 L122.69,80.80 L123.21,80.25 L123.73,79.71 L124.25,79.17 L124.78,78.64 L125.30,78.11 L125.83,77.59 L126.37,77.07 L126.90,76.56 L127.44,76.06 L127.98,75.56 L128.53,75.06 L129.07,74.57 L129.62,74.09 L130.17,73.61 L130.72,73.13 L131.28,72.66 L131.84,72.20 L132.40,71.73 L132.96,71.28 L133.53,70.82 L134.10,70.38 L134.67,69.93 L135.25,69.49 L135.82,69.06 L136.40,68.63 L136.99,68.20 L137.57,67.78 L138.16,67.36 L138.75,66.95 L139.34,66.54 L139.94,66.13 L140.54,65.73 L141.14,65.34 L141.74,64.94 L142.34,64.55 L142.95,64.16 L143.56,63.78 L144.18,63.40 L144.79,63.03 L145.41,62.66 L146.03,62.29 L146.66,61.92 L147.28,61.56 L147.91,61.20 L148.55,60.85 L149.18,60.50 L149.82,60.15 L150.46,59.81 L151.10,59.46 L151.74,59.13 L152.39,58.79 L153.04,58.46 L153.69,58.13 L154.35,57.80 L155.01,57.48 L155.67,57.16 L156.33,56.85 L157.00,56.53 L157.67,56.22 L158.34,55.91 L159.01,55.61 L159.69,55.31 L160.36,55.01 L161.05,54.71 L161.73,54.41 L162.42,54.12 L163.11,53.83 L163.80,53.55 L164.49,53.26 L165.19,52.98 L165.89,52.70 L166.59,52.43 L167.30,52.15 L168.00,51.88 L168.71,51.61 L169.43,51.35 L170.14,51.08 L170.86,50.82 L171.58,50.56 L172.30,50.30 L173.03,50.05 L173.76,49.80 L174.49,49.55 L175.22,49.30 L175.96,49.05 L176.69,48.81 L177.44,48.57 L178.18,48.33 L178.93,48.09 L179.68,47.85 L180.43,47.62 L181.18,47.39 L181.94,47.16 L182.70,46.93 L183.46,46.70 L184.22,46.48 L184.99,46.26 L185.76,46.04 L186.53,45.82 L187.31,45.60 L188.09,45.39 L188.87,45.17 L189.65,44.96 L190.44,44.75 L191.22,44.55 L192.01,44.34 L192.81,44.14 L193.60,43.93 L194.40,43.73 L195.20,43.53 L196.01,43.34 L196.81,43.14 L197.62,42.95 L198.43,42.75 L199.25,42.56 L200.07,42.37 L200.89,42.18 L201.71,42.00 L202.53,41.81 L203.36,41.63 L204.19,41.45 L205.02,41.27 L205.86,41.09 L206.69,40.91 L207.53,40.73 L208.38,40.56 L209.22,40.38 L210.07,40.21 L210.92,40.04 L211.78,39.87 L212.63,39.70 L213.49,39.54 L214.35,39.37 L215.21,39.21 L216.08,39.04 L216.95,38.88 L217.82,38.72 L218.70,38.56 L219.57,38.40 L220.45,38.25 L221.33,38.09 L222.22,37.94 L223.11,37.79 L224.00,37.63 L224.89,37.48 L225.78,37.33 L226.68,37.18 L227.58,37.04 L228.48,36.89 L229.39,36.75 L230.30,36.60 L231.21,36.46 L232.12,36.32 L233.04,36.18 L233.95,36.04 L234.88,35.90 L235.80,35.76 L236.73,35.62 L237.65,35.49 L238.59,35.35 L239.52,35.22 L240.46,35.09 L241.40,34.95 L242.34,34.82 L243.28,34.69 L244.23,34.56 L245.18,34.44 L246.13,34.31 L247.09,34.18 L248.04,34.06 L249.00,33.93 L249.97,33.81 L250.93,33.69 L251.90,33.57 L252.87,33.44 L253.84,33.32 L254.82,33.21 L255.80,33.09 L256.78,32.97 L257.76,32.85 L258.75,32.74 L259.74,32.62 L260.73,32.51 L261.72,32.40 L262.72,32.28 L263.72,32.17 L264.72,32.06 L265.72,31.95 L266.73,31.84 L267.74,31.73 L268.75,31.62 L269.77,31.52 L270.79,31.41 L271.81,31.30 L272.83,31.20 L273.85,31.10 L274.88,30.99 L275.91,30.89 L276.95,30.79 L277.98,30.69 L279.02,30.59 L280.06,30.49 L281.10,30.39 L282.15,30.29 L283.20,30.19 L284.25,30.09 L285.30,30.00 L286.36,29.90 L287.42,29.80 L288.48,29.71 L289.55,29.61 L290.61,29.52 L291.68,29.43 L292.75,29.34 L293.83,29.24 L294.91,29.15 L295.99,29.06 L297.07,28.97 L298.15,28.88 L299.24,28.79 L300.33,28.71 L301.43,28.62 L302.52,28.53 L303.62,28.45 L304.72,28.36 L305.82,28.27 L306.93,28.19 L308.04,28.11 L309.15,28.02 L310.26,27.94 L311.38,27.86 L312.50,27.77 L313.62,27.69 L314.75,27.61 L315.87,27.53 L317.00,27.45 L318.13,27.37 L319.27,27.29 L320.41,27.21 L321.55,27.14 L322.69,27.06 L323.83,26.98 L324.98,26.90 L326.13,26.83 L327.28,26.75 L328.44,26.68 L329.60,26.60 L330.76,26.53 L331.92,26.45 L333.09,26.38 L334.26,26.31 L335.43,26.24 L336.60,26.16 L337.78,26.09 L338.96,26.02 L340.14,25.95 L341.32,25.88 L342.51,25.81 L343.70,25.74 L344.89,25.67 L346.09,25.60 L347.28,25.54 L348.48,25.47 L349.69,25.40 L350.89,25.33 L352.10,25.27 L353.31,25.20 L354.52,25.14 L355.74,25.07 L356.95,25.01 L358.18,24.94 L359.40,24.88 L360.62,24.81 L361.85,24.75 L363.08,24.69 L364.32,24.62 L365.55,24.56 L366.79,24.50 L368.03,24.44 L369.28,24.38 L370.53,24.32 L371.77,24.26 L373.03,24.20 L374.28,24.14 L375.54,24.08 L376.80,24.02 L378.06,23.96 L379.33,23.90 L380.59,23.84 L381.86,23.78 L383.14,23.73 L384.41,23.67 L385.69,23.61 L386.97,23.56 L388.25,23.50 L389.54,23.44 L390.83,23.39 L392.12,23.33 L393.41,23.28 L394.71,23.22 L396.01,23.17 L397.31,23.12 L398.61,23.06 L399.92,23.01 L401.23,22.96 L402.54,22.90 L403.86,22.85 L405.17,22.80 L406.49,22.75 L407.81,22.70 L409.14,22.64 L410.47,22.59 L411.80,22.54 L413.13,22.49 L414.46,22.44 L415.80,22.39 L417.14,22.34 L418.49,22.29 L419.83,22.24 L421.18,22.19 L422.53,22.15 L423.88,22.10 L425.24,22.05 L426.60,22.00 L427.96,21.95 L429.33,21.91 L430.69,21.86 L432.06,21.81 L433.43,21.77 L434.81,21.72 L436.18,21.68 L437.56,21.63 L438.95,21.58 L440.33,21.54 L441.72,21.49 L443.11,21.45 L444.50,21.40 L445.90,21.36 L447.29,21.32 L448.69,21.27 L450.10,21.23 L451.50,21.18 L452.91,21.14 L454.32,21.10 L455.74,21.06 L457.15,21.01 L458.57,20.97 L459.99,20.93 L461.42,20.89 L462.84,20.85 L464.27,20.80 L465.70,20.76 L467.14,20.72 L468.57,20.68 L470.01,20.64 L471.46,20.60 L472.90,20.56 L474.35,20.52 L475.80,20.48 L477.25,20.44 L478.71,20.40 L480.16,20.36 L481.62,20.32 L483.09,20.29 L484.55,20.25 L486.02,20.21 L487.49,20.17 L488.97,20.13 L490.44,20.09 L491.92,20.06 L493.40,20.02 L494.89,19.98 L496.37,19.95 L497.86,19.91 L499.35,19.87 L500.85,19.84 L502.34,19.80 L503.84,19.76 L505.35,19.73 L506.85,19.69 L508.36,19.66 L509.87,19.62 L511.38,19.58 L512.89,19.55 L514.41,19.51 L515.93,19.48 L517.46,19.45 L518.98,19.41 L520.51,19.38 L522.04,19.34 L523.57,19.31 L525.11,19.28 L526.65,19.24 L528.19,19.21 L529.73,19.18 L531.28,19.14 L532.83,19.11 L534.38,19.08 L535.93,19.04 L537.49,19.01 L539.05,18.98" stroke="#00f" stroke-width="1.58"/>
</g>
<path d="M67.59,308.27v-1.9 M67.59,9.00v1.9 M79.68,308.27v-1.9 M79.68,9.00v1.9 M91.77,308.27v-1.9 M91.77,9.00v1.9 M103.86,308.27v-1.9 M103.86,9.00v1.9 M115.94,308.27v-3.2 M115.94,9.00v3.2 M128.03,308.27v-1.9 M128.03,9.00v1.9 M140.12,308.27v-1.9 M140.12,9.00v1.9 M152.21,308.27v-1.9 M152.21,9.00v1.9 M164.30,308.27v-1.9 M164.30,9.00v1.9 M176.39,308.27v-3.2 M176.39,9.00v3.2 M188.48,308.27v-1.9 M188.48,9.00v1.9 M200.57,308.27v-1.9 M200.57,9.00v1.9 M212.66,308.27v-1.9 M212.66,9.00v1.9 M224.75,308.27v-1.9 M224.75,9.00v1.9 M236.84,308.27v-3.2 M236.84,9.00v3.2 M248.92,308.27v-1.9 M248.92,9.00v1.9 M261.01,308.27v-1.9 M261.01,9.00v1.9 M273.10,308.27v-1.9 M273.10,9.00v1.9 M285.19,308.27v-1.9 M285.19,9.00v1.9 M297.28,308.27v-3.2 M297.28,9.00v3.2 M309.37,308.27v-1.9 M309.37,9.00v1.9 M321.46,308.27v-1.9 M321.46,9.00v1.9 M333.55,308.27v-1.9 M333.55,9.00v1.9 M345.64,308.27v-1.9 M345.64,9.00v1.9 M357.73,308.27v-3.2 M357.73,9.00v3.2 M369.81,308.27v-1.9 M369.81,9.00v1.9 M381.90,308.27v-1.9 M381.90,9.00v1.9 M393.99,308.27v-1.9 M393.99,9.00v1.9 M406.08,308.27v-1.9 M406.08,9.00v1.9 M418.17,308.27v-3.2 M418.17,9.00v3.2 M430.26,308.27v-1.9 M430.26,9.00v1.9 M442.35,308.27v-1.9 M442.35,9.00v1.9 M454.44,308.27v-1.9 M454.44,9.00v1.9 M466.53,308.27v-1.9 M466.53,9.00v1.9 M478.62,308.27v-3.2 M478.62,9.00v3.2 M490.70,308.27v-1.9 M490.70,9.00v1.9 M502.79,308.27v-1.9 M502.79,9.00v1.9 M514.88,308.27v-1.9 M514.88,9.00v1.9 M526.97,308.27v-1.9 M526.97,9.00v1.9 M539.06,308.27v-3.2 M539.06,9.00v3.2 M55.50,9.00h3.2 M539.05,9.00h-3.2 M55.50,23.97h1.9 M539.05,23.97h-1.9 M55.50,38.93h1.9 M539.05,38.93h-1.9 M55.50,53.90h1.9 M539.05,53.90h-1.9 M55.50,68.86h3.2 M539.05,68.86h-3.2 M55.50,83.82h1.9 M539.05,83.82h-1.9 M55.50,98.79h1.9 M539.05,98.79h-1.9 M55.50,113.75h1.9 M539.05,113.75h-1.9 M55.50,128.72h3.2 M539.05,128.72h-3.2 M55.50,143.68h1.9 M539.05,143.68h-1.9 M55.50,158.64h1.9 M539.05,158.64h-1.9 M55.50,173.61h1.9 M539.05,173.61h-1.9 M55.50,188.57h3.2 M539.05,188.57h-3.2 M55.50,203.54h1.9 M539.05,203.54h-1.9 M55.50,218.50h1.9 M539.05,218.50h-1.9 M55.50,233.47h1.9 M539.05,233.47h-1.9 M55.50,248.43h3.2 M539.05,248.43h-3.2 M55.50,263.39h1.9 M539.05,263.39h-1.9 M55.50,278.36h1.9 M539.05,278.36h-1.9 M55.50,293.32h1.9 M539.05,293.32h-1.9 M55.50,308.29h3.2 M539.05,308.29h-3.2" stroke="#000" stroke-width="0.75" fill="none"/>
<rect x="55.5" y="9.00" width="483.55" height="299.27" fill="none" stroke="#000" stroke-width="0.65"/>
</g>
<g font-family="'Liberation Mono', monospace" font-size="18.3" fill="#000" stroke="none"><text x="115.8" y="546.9" text-anchor="middle">0.25</text><text x="176.3" y="546.9" text-anchor="middle">0.5</text><text x="236.7" y="546.9" text-anchor="middle">0.75</text><text x="297.2" y="546.9" text-anchor="middle">1</text><text x="357.6" y="546.9" text-anchor="middle">1.25</text><text x="418.1" y="546.9" text-anchor="middle">1.5</text><text x="478.5" y="546.9" text-anchor="middle">1.75</text><text x="539.0" y="546.9" text-anchor="middle">2</text><text x="51.4" y="25.1" text-anchor="end">0</text><text x="51.4" y="125.3" text-anchor="end">-2</text><text x="51.4" y="225.6" text-anchor="end">-4</text><text x="51.4" y="325.9" text-anchor="end">-6</text><text x="51.4" y="426.1" text-anchor="end">-8</text><text x="297.2" y="585.7" text-anchor="middle">x</text><text x="466.5" y="474.5" text-anchor="middle">e</text><text transform="translate(16.5,266) rotate(-90)" text-anchor="middle">v</text></g>
</svg></body></html>
